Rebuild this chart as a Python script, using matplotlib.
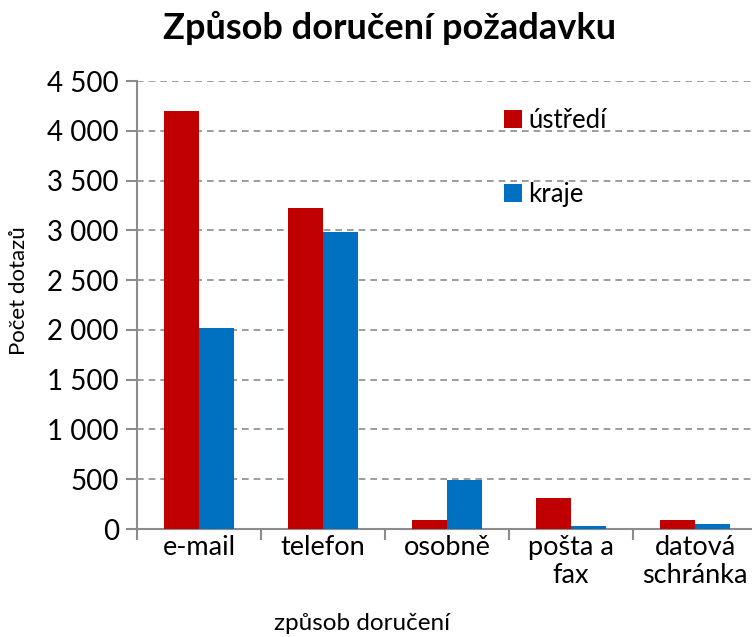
import matplotlib
matplotlib.use("Agg")
import matplotlib.pyplot as plt
import numpy as np
from matplotlib.ticker import FuncFormatter, FixedLocator

categories = ["e-mail", "telefon", "osobně", "pošta a\nfax", "datová\nschránka"]
ustredi = [4200, 3220, 90, 310, 90]
kraje = [2020, 2980, 490, 27, 50]
series_names = ["ústředí", "kraje"]

plt.rcParams['font.family'] = ['Lato', 'DejaVu Sans']

fig = plt.figure(figsize=(7.52, 6.37), dpi=100)
ax = fig.add_axes([137/752, (637-529)/637, 620/752, 448/637])

x = np.arange(len(categories))
w = 0.285
ax.bar(x - w/2, ustredi, w, color="#C00000", label=series_names[0], zorder=3)
ax.bar(x + w/2, kraje, w, color="#0070C0", label=series_names[1], zorder=3)

ax.set_xlim(-0.5, len(categories) - 0.5)
ax.set_ylim(0, 4500)
ax.set_yticks(np.arange(0, 4501, 500))
ax.yaxis.set_major_formatter(FuncFormatter(lambda v, p: f"{int(v):,}".replace(",", " ")))
ax.grid(axis="y", color="#8c8c8c", linestyle=(0, (4, 3)), linewidth=1.2, zorder=0)

ax.set_xticks(x)
ax.set_xticklabels(categories, fontsize=19.5, linespacing=1.15)
ax.xaxis.set_minor_locator(FixedLocator(np.arange(-0.5, len(categories), 1.0)))
ax.tick_params(axis="x", which="major", length=0, pad=4)
ax.tick_params(axis="x", which="minor", length=8, color="#8c8c8c", width=1.5)
ax.tick_params(axis="y", length=8, color="#8c8c8c", width=1.5, labelsize=20, pad=5)

for s in ["top", "right"]:
    ax.spines[s].set_visible(False)
for s in ["left", "bottom"]:
    ax.spines[s].set_color("#8c8c8c")
    ax.spines[s].set_linewidth(1.5)

fig.text(19/752, 1 - 291/637, "Počet dotazů", fontsize=16, rotation=90,
         ha="center", va="center")
fig.text(362/752, 1 - 624/637, "způsob doručení", fontsize=17.5,
         ha="center", va="center")

fig.text(390/752, 1 - 28/637, "Způsob doručení požadavku", fontsize=26,
         fontweight="bold", ha="center", va="center")

leg = ax.legend(loc="upper left", bbox_to_anchor=(491/752, 1 - 95/637),
                bbox_transform=fig.transFigure, frameon=False, fontsize=18.5,
                labelspacing=1.9, handlelength=0.7, handleheight=0.7,
                handletextpad=0.25, borderpad=0)

fig.savefig("out.png", dpi=100)
